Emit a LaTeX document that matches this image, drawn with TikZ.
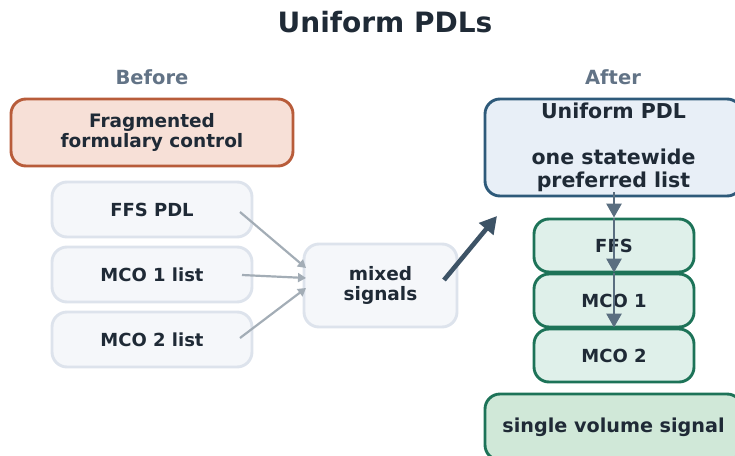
\documentclass[tikz,border=0pt]{standalone}
\usepackage{fontspec}
\setmainfont{DejaVu Sans}
\usetikzlibrary{arrows.meta}
\definecolor{txt}{HTML}{1F2A36}
\definecolor{sub}{HTML}{627386}
\definecolor{fragfill}{HTML}{F7E0D7}
\definecolor{fragdraw}{HTML}{B85C3A}
\definecolor{grayfill}{HTML}{F5F7FA}
\definecolor{graydraw}{HTML}{DDE3EC}
\definecolor{bluefill}{HTML}{E8EFF7}
\definecolor{bluedraw}{HTML}{2E5A7A}
\definecolor{greenfill}{HTML}{DFF0EA}
\definecolor{greendraw}{HTML}{1D7358}
\definecolor{sigfill}{HTML}{D0E8D8}
\definecolor{thinline}{HTML}{A3ADB6}
\definecolor{bigarrow}{HTML}{3D5366}
\definecolor{chain}{HTML}{5A6E80}
\begin{document}
\begin{tikzpicture}[x=1pt,y=-1pt,
  box/.style={rounded corners=15pt, line width=2.9pt, font=\bfseries\fontsize{18}{20}\selectfont, text=txt, align=center, inner sep=0pt},
  frag/.style={box, fill=fragfill, draw=fragdraw, font=\bfseries\fontsize{18.5}{20.5}\selectfont},
  before/.style={box, fill=grayfill, draw=graydraw, minimum width=200pt, minimum height=55pt},
  after/.style={box, fill=greenfill, draw=greendraw, minimum width=160pt, minimum height=53pt},
  head/.style={font=\bfseries\fontsize{19.5}{22}\selectfont, text=sub},
  thin/.style={draw=thinline, line width=2.2pt, -{Triangle[length=8pt,width=9pt]}},
  chainarrow/.style={draw=chain, line width=2.8pt, -{Triangle[length=14pt,width=15pt]}},
]
\useasboundingbox (0,0) rectangle (735,455);
\node[font=\bfseries\fontsize{28}{32}\selectfont, text=txt] (title) at (385,22) {Uniform PDLs};
\node[head] (hb) at (152,77) {Before};
\node[head] (ha) at (613,77) {After};
\node[frag, minimum width=282pt, minimum height=67pt] (frag) at (152,132.5) {Fragmented\\formulary control};
\node[before] (b1) at (152,209.5) {FFS PDL};
\node[before] (b2) at (152,274.5) {MCO 1 list};
\node[before] (b3) at (152,339.5) {MCO 2 list};
\node[box, fill=grayfill, draw=graydraw, minimum width=153pt, minimum height=83pt, font=\bfseries\fontsize{18.5}{20.5}\selectfont] (mix) at (380.5,285.5) {mixed\\signals};
\node[box, fill=bluefill, draw=bluedraw, minimum width=257pt, minimum height=97pt, font=\bfseries\fontsize{20.5}{23}\selectfont] (uni) at (613.5,147.5) {Uniform PDL\\~\\one statewide\\preferred list};
\node[after] (a1) at (614,245.5) {FFS};
\node[after] (a2) at (614,300.5) {MCO 1};
\node[after] (a3) at (614,355.5) {MCO 2};
\node[box, fill=sigfill, draw=greendraw, minimum width=257pt, minimum height=66pt, font=\bfseries\fontsize{19.2}{21}\selectfont] (sig) at (613.5,427) {single volume signal};
\coordinate (s1) at (240,212);
\coordinate (s2) at (242,275);
\coordinate (s3) at (240,338);
\coordinate (m1) at (306,268);
\coordinate (m2) at (306,278);
\coordinate (m3) at (306,288);
\draw[thin] (s1) -- (m1);
\draw[thin] (s2) -- (m2);
\draw[thin] (s3) -- (m3);
\coordinate (mo) at (444,280);
\coordinate (ae) at (497,216);
\draw[draw=bigarrow, line width=4.6pt, -{Triangle[length=17pt,width=18pt]}] (mo) -- (ae);
\coordinate (u0) at (614,192);
\draw[chainarrow] (u0) -- (a1.north);
\draw[chainarrow] (a1.north) -- (a2.north);
\draw[chainarrow] (a2.north) -- (a3.north);
\end{tikzpicture}
\end{document}
